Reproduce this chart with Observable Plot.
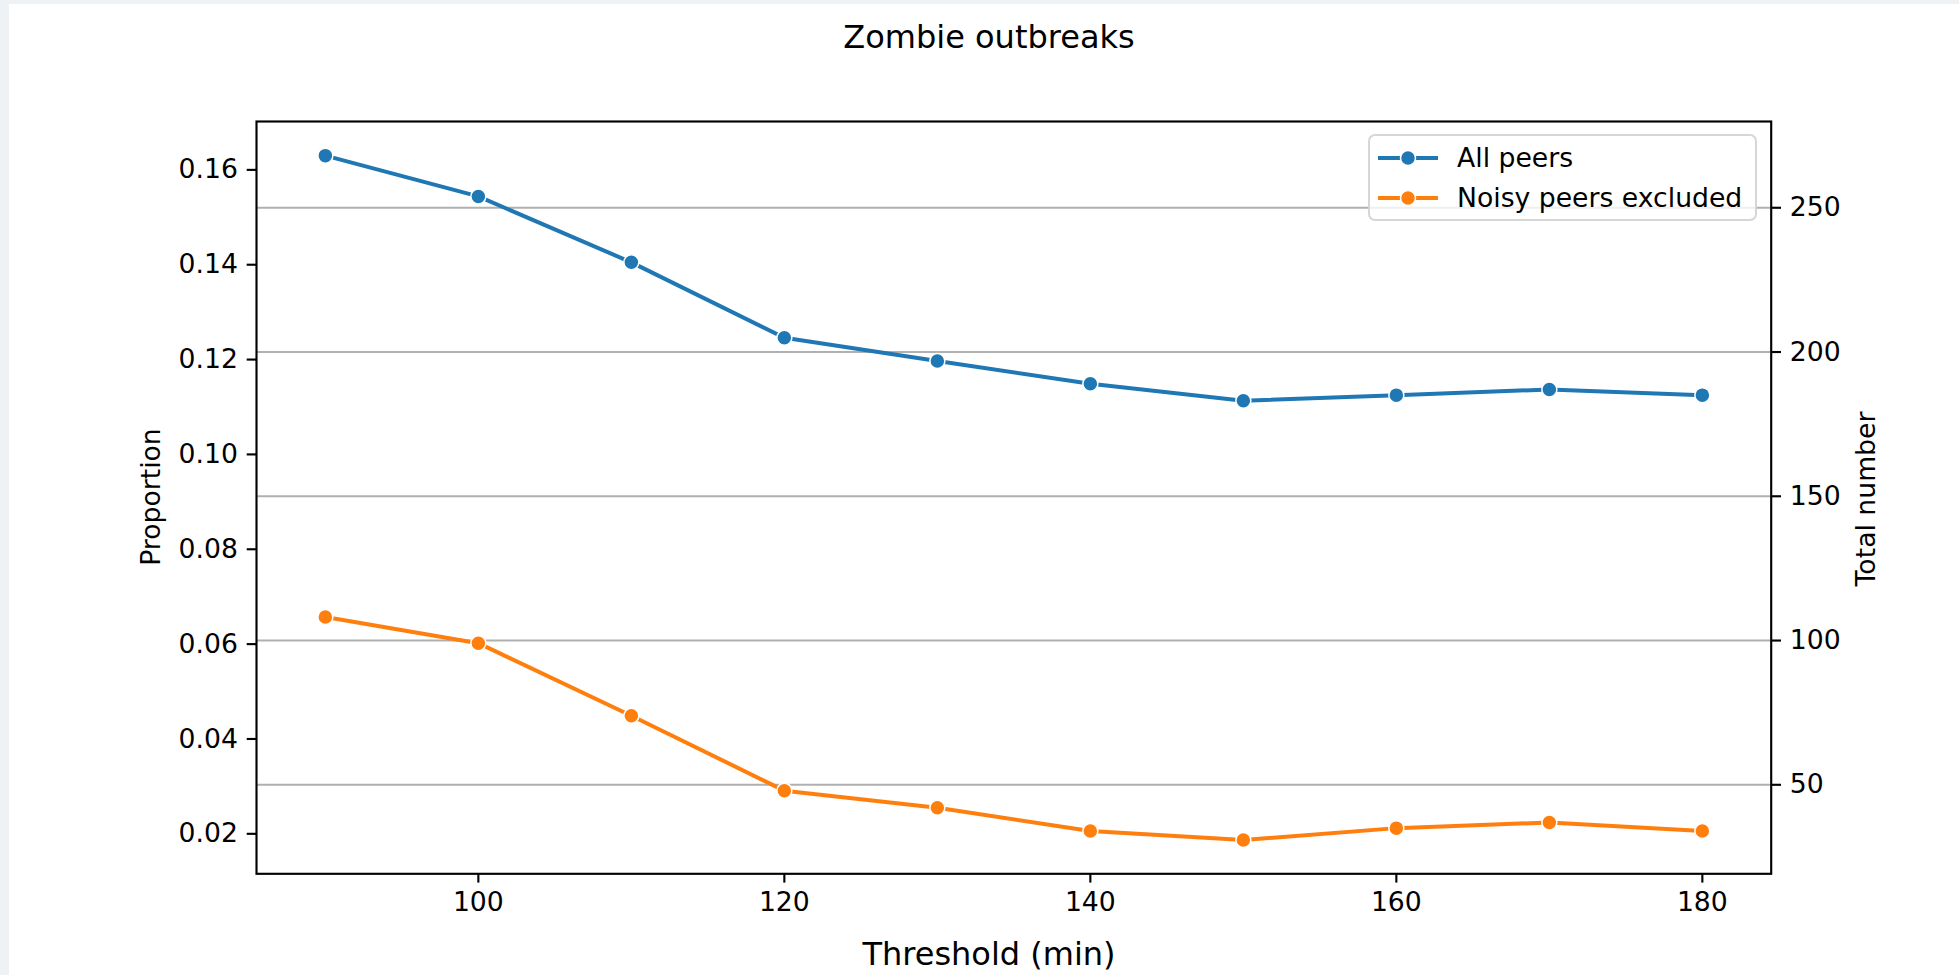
<!DOCTYPE html>
<html>
<head>
<meta charset="utf-8">
<script src="https://cdn.jsdelivr.net/npm/d3@7"></script>
<script src="https://cdn.jsdelivr.net/npm/@observablehq/plot@0.6"></script>
<style>
  html, body { margin: 0; padding: 0; }
  body { width: 1959px; height: 975px; overflow: hidden; position: relative; background: #eff2f4; font-family: "DejaVu Sans", sans-serif; color: #000; }
  #card { position: absolute; left: 9px; top: 4px; right: 0; bottom: 0; background: #fff; }
  #chart { position: absolute; left: 0; top: 60px; }
  .lbl { position: absolute; white-space: nowrap; line-height: 1; }
  #title { left: 989px; top: 21px; font-size: 32px; transform: translateX(-50%); }
  #xlabel { left: 989px; top: 938px; font-size: 32px; transform: translateX(-50%); }
  #ylabel { left: 151px; top: 497px; font-size: 26.67px; transform: translate(-50%, -50%) rotate(-90deg); }
  #y2label { left: 1866px; top: 499px; font-size: 26.67px; transform: translate(-50%, -50%) rotate(-90deg); }
  #legend { position: absolute; left: 1368px; top: 134px; width: 385px; height: 83px; background: rgba(255,255,255,0.8); border: 2px solid rgba(204,204,204,0.8); border-radius: 7px; }
  .entry { position: absolute; left: 8px; height: 30px; display: flex; align-items: center; font-size: 26.67px; line-height: 1; white-space: nowrap; }
  .entry svg { margin-right: 19px; }
</style>
</head>
<body>
<div id="card"></div>
<div id="chart"></div>
<div id="title" class="lbl">Zombie outbreaks</div>
<div id="xlabel" class="lbl">Threshold (min)</div>
<div id="ylabel" class="lbl">Proportion</div>
<div id="y2label" class="lbl">Total number</div>
<div id="legend"></div>
<script>
// ---- data ----
const thresholds = [90, 100, 110, 120, 130, 140, 150, 160, 170, 180];
const allPeers = [0.1630, 0.1544, 0.1405, 0.1246, 0.1197, 0.1149, 0.1113, 0.1125, 0.1137, 0.1125];
const noisyExcluded = [0.0657, 0.0602, 0.0449, 0.0291, 0.0255, 0.0206, 0.0187, 0.0212, 0.0224, 0.0206];
const seriesNames = ["All peers", "Noisy peers excluded"];
const seriesColors = ["#1f77b4", "#ff7f0e"];
const xTicks = [100, 120, 140, 160, 180];
const leftTicks = [0.02, 0.04, 0.06, 0.08, 0.10, 0.12, 0.14, 0.16];
const rightTicks = [50, 100, 150, 200, 250];
const xDomain = [85.5, 184.5];
const leftDomain = [0.01157, 0.1702];
const rightDomain = [19.15, 279.9];

// map secondary (total number) axis values onto the proportion scale
const toLeft = t => leftDomain[0] + (t - rightDomain[0]) * (leftDomain[1] - leftDomain[0]) / (rightDomain[1] - rightDomain[0]);
const toRight = p => rightDomain[0] + (p - leftDomain[0]) * (rightDomain[1] - rightDomain[0]) / (leftDomain[1] - leftDomain[0]);

const data = [];
thresholds.forEach((t, i) => {
  data.push({threshold: t, value: allPeers[i], series: seriesNames[0]});
});
thresholds.forEach((t, i) => {
  data.push({threshold: t, value: noisyExcluded[i], series: seriesNames[1]});
});

const W = 1959, H = 915;
const lw = 2.13;

const chart = Plot.plot({
  width: W,
  height: H,
  marginTop: 61,
  marginBottom: 101.7,
  marginLeft: 256,
  marginRight: 188.3,
  style: {fontSize: "26.67px", fontFamily: "DejaVu Sans, sans-serif", background: "transparent", color: "#000"},
  x: {domain: xDomain},
  y: {domain: leftDomain},
  color: {domain: seriesNames, range: seriesColors},
  marks: [
    Plot.gridY(rightTicks.map(toLeft), {stroke: "#b0b0b0", strokeOpacity: 1, strokeWidth: lw}),
    Plot.line(data, {x: "threshold", y: "value", z: "series", stroke: "series", strokeWidth: 4}),
    Plot.dot(data, {x: "threshold", y: "value", fill: "series", stroke: "white", strokeWidth: 1.5, r: 7.5}),
    Plot.axisX(xTicks, {anchor: "bottom", tickSize: 9.3, tickPadding: 9.3, strokeWidth: lw, tickFormat: d3.format("d"), label: null}),
    Plot.axisY(leftTicks, {anchor: "left", tickSize: 9.3, tickPadding: 9.3, strokeWidth: lw, tickFormat: d3.format(".2f"), label: null}),
    Plot.axisY(rightTicks.map(toLeft), {anchor: "right", tickSize: 9.3, tickPadding: 9.3, strokeWidth: lw, tickFormat: d => String(Math.round(toRight(d))), label: null}),
    Plot.frame({stroke: "#000", strokeWidth: lw})
  ]
});
document.getElementById("chart").appendChild(chart);

// legend
const legend = document.getElementById("legend");
seriesNames.forEach((name, i) => {
  const e = document.createElement("div");
  e.className = "entry";
  e.style.top = (i === 0 ? 7 : 47) + "px";
  const c = seriesColors[i];
  e.innerHTML = `<svg width="60" height="20" viewBox="0 0 60 20"><line x1="0" y1="10" x2="60" y2="10" stroke="${c}" stroke-width="4"/><circle cx="30" cy="10" r="7.5" fill="${c}" stroke="white" stroke-width="1.5"/></svg><span>${name}</span>`;
  legend.appendChild(e);
});
</script>
</body>
</html>
